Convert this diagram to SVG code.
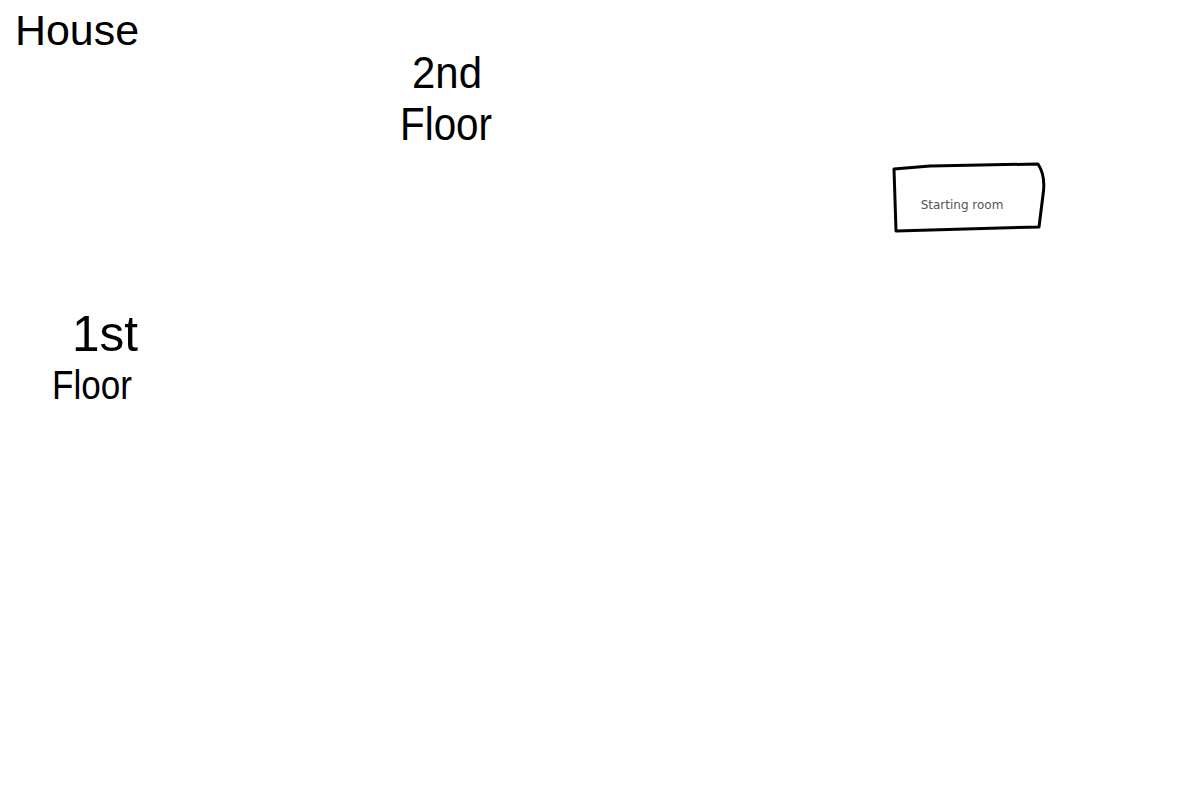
<svg xmlns="http://www.w3.org/2000/svg" width="1200" height="800" viewBox="0 0 1200 800">
<style>
.hand{font-family:"Liberation Sans",Arial,sans-serif;fill:#000}
.lbl{font-family:"DejaVu Sans","Liberation Sans",sans-serif;font-size:12px;fill:#555}
.box{fill:none;stroke:#000;stroke-width:3;stroke-linejoin:round}
</style>
<rect width="1200" height="800" fill="#fff"/>
<g id="title"><text class="hand" x="15" y="45" font-size="42" textLength="124" lengthAdjust="spacingAndGlyphs">House</text></g>
<g id="floor2">
<text class="hand" x="412" y="88" font-size="44" textLength="70" lengthAdjust="spacingAndGlyphs">2nd</text>
<text class="hand" x="400" y="140" font-size="46" textLength="92" lengthAdjust="spacingAndGlyphs">Floor</text>
</g>
<g id="floor1">
<text class="hand" x="72" y="351" font-size="50" textLength="66" lengthAdjust="spacingAndGlyphs">1st</text>
<text class="hand" x="52" y="399" font-size="40" textLength="80" lengthAdjust="spacingAndGlyphs">Floor</text>
</g>
<g id="starting-room">
<path class="box" d="M894,169 L930,166 L1038,164 Q1046,176 1043,195 L1039,227 L1000,228 L896,231 Z"/>
<text class="lbl" x="962" y="209" text-anchor="middle">Starting room</text>
</g>
<g id="connectors"/>
</svg>
